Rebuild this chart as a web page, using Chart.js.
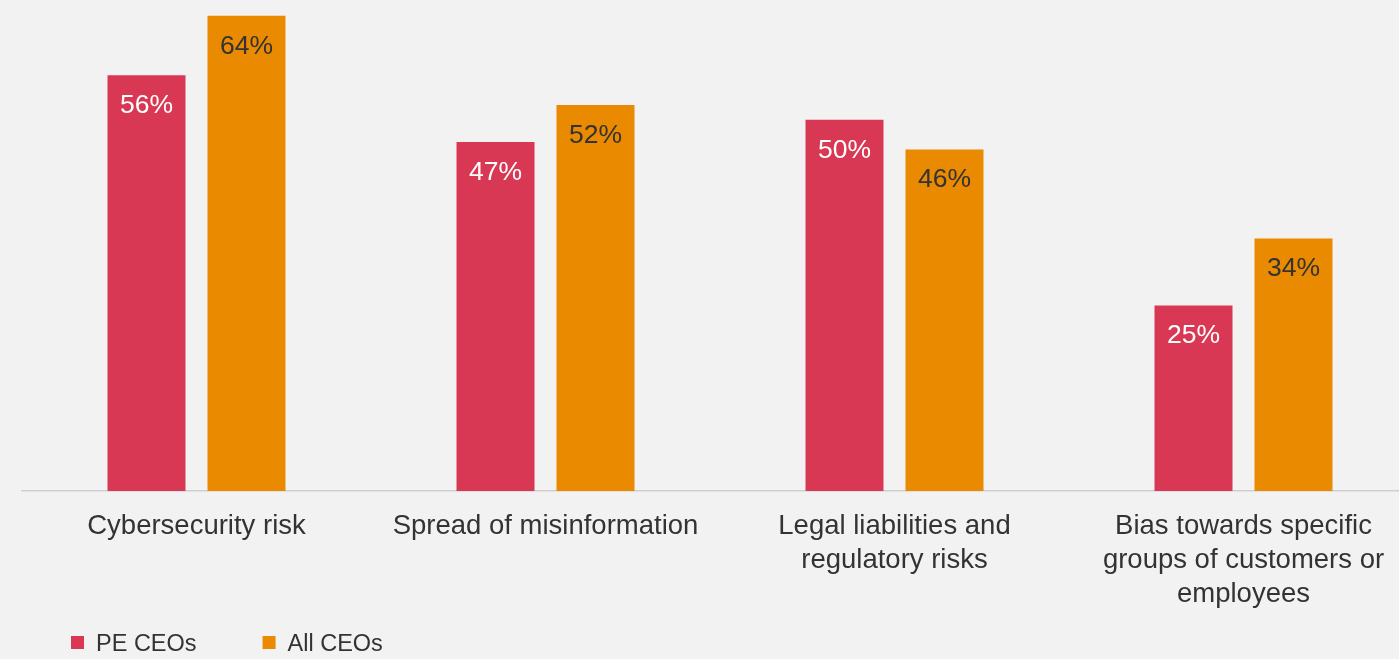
<!DOCTYPE html>
<html>
<head>
<meta charset="utf-8">
<script src="https://cdn.jsdelivr.net/npm/chart.js@4/dist/chart.umd.min.js"></script>
<style>
    html, body { margin: 0; padding: 0; background: #f2f2f2; overflow: hidden; }
    #wrap { width: 1420px; height: 659px; position: relative; }
</style>
</head>
<body>
<div id="wrap"><canvas id="risksChart"></canvas></div>
<script>
// Data
const categories = [
    "Cybersecurity risk",
    "Spread of misinformation",
    ["Legal liabilities and", "regulatory risks"],
    ["Bias towards specific", "groups of customers or", "employees"]
];
const peCeos = [56, 47, 50, 25];
const allCeos = [64, 52, 46, 34];
const seriesNames = ["PE CEOs", "All CEOs"];

const FONT = "'Liberation Sans', Arial, Helvetica, sans-serif";
const PINK = "#d93854";
const ORANGE = "#ea8a00";
const TEXT = "#333333";

// Labels inside the top of each bar
const valueLabels = {
    id: "valueLabels",
    afterDatasetsDraw(chart) {
        const ctx = chart.ctx;
        ctx.save();
        ctx.font = "26.5px " + FONT;
        ctx.textAlign = "center";
        ctx.textBaseline = "middle";
        chart.data.datasets.forEach((ds, i) => {
            const meta = chart.getDatasetMeta(i);
            ctx.fillStyle = ds.labelColor;
            meta.data.forEach((bar, j) => {
                ctx.fillText(ds.data[j] + "%", bar.x, bar.y + 30.5);
            });
        });
        ctx.restore();
    }
};

// Legend at bottom left
const bottomLegend = {
    id: "bottomLegend",
    afterDraw(chart) {
        const ctx = chart.ctx;
        ctx.save();
        ctx.font = "23.5px " + FONT;
        ctx.textBaseline = "middle";
        let x = 71;
        const y = 644.5;
        chart.data.datasets.forEach(ds => {
            ctx.fillStyle = ds.backgroundColor;
            ctx.fillRect(x, 636, 13, 13);
            ctx.fillStyle = TEXT;
            ctx.fillText(ds.label, x + 25, y);
            x += 25 + ctx.measureText(ds.label).width + 66;
        });
        ctx.restore();
    }
};

const ctx = document.getElementById("risksChart").getContext("2d");
new Chart(ctx, {
    type: "bar",
    data: {
        labels: categories,
        datasets: [
            {
                label: seriesNames[0],
                data: peCeos,
                backgroundColor: PINK,
                labelColor: "#ffffff"
            },
            {
                label: seriesNames[1],
                data: allCeos,
                backgroundColor: ORANGE,
                labelColor: TEXT
            }
        ]
    },
    options: {
        responsive: true,
        maintainAspectRatio: false,
        animation: false,
        layout: {
            padding: { left: 22, right: 2, top: 1, bottom: 0 }
        },
        datasets: {
            bar: {
                categoryPercentage: 0.573,
                barPercentage: 0.78
            }
        },
        scales: {
            x: {
                grid: { display: false, drawTicks: false },
                border: { display: true, color: "#cfcfcf", width: 1.5 },
                ticks: {
                    color: TEXT,
                    padding: 18,
                    maxRotation: 0,
                    autoSkip: false,
                    font: { family: FONT, size: 27.5, lineHeight: 1.24 }
                },
                afterFit(scale) {
                    scale.height = 168;
                }
            },
            y: {
                display: false,
                min: 0,
                max: 66
            }
        },
        plugins: {
            legend: { display: false },
            tooltip: { enabled: false }
        }
    },
    plugins: [valueLabels, bottomLegend]
});
</script>
</body>
</html>
